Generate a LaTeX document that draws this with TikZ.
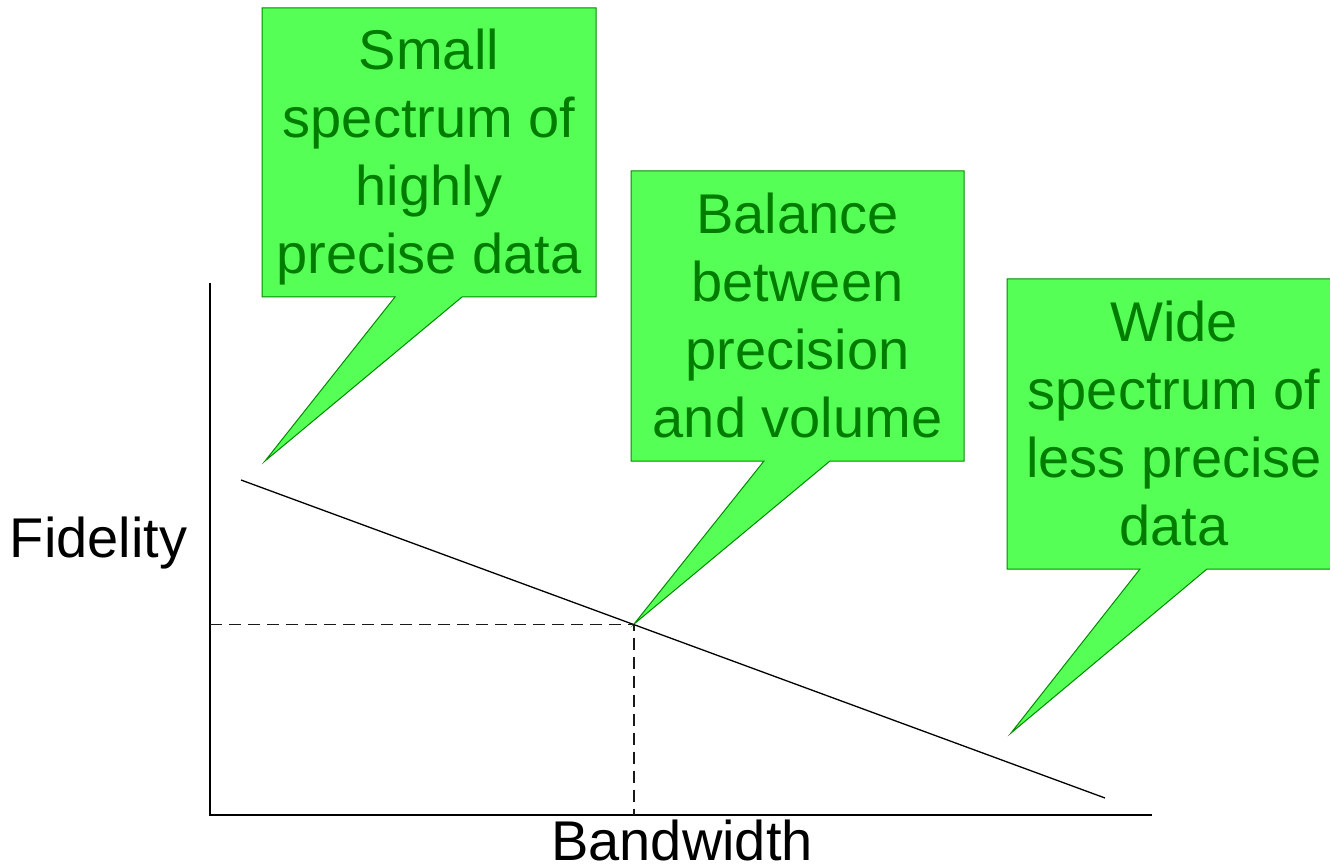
\documentclass[tikz,border=0pt]{standalone}
\usepackage{fontspec}
\setmainfont{Liberation Sans}
\definecolor{callfill}{RGB}{85,255,85}
\definecolor{calldraw}{RGB}{0,140,0}
\definecolor{calltext}{RGB}{0,125,0}
\begin{document}
\begin{tikzpicture}[x=1pt,y=-1pt,
  callout/.style={fill=callfill,draw=calldraw,line width=1pt,line join=miter},
  calltxt/.style={text=calltext,align=center,inner sep=0pt,anchor=base,
    font=\fontsize{56}{68}\selectfont},
  axislbl/.style={text=black,inner sep=0pt,anchor=base,font=\fontsize{56}{68}\selectfont},
  axisline/.style={line width=1.6pt,black},
  trend/.style={line width=1.3pt,black},
  guide/.style={line width=1.4pt,black!90,dash pattern=on 12pt off 7pt}]
\useasboundingbox (0,0) rectangle (1330,866);
\clip (0,0) rectangle (1330,866);
% callouts
\draw[callout] (262,8) -- (596,8) -- (596,297) -- (462,297) -- (265,461) -- (395,297) -- (262,297) -- cycle;
\node[calltxt] (c1) at (429,274) {Small\\spectrum of\\highly\\precise data};
\draw[callout] (631,171) -- (964,171) -- (964,461) -- (830,461) -- (634,624) -- (764,461) -- (631,461) -- cycle;
\node[calltxt] (c2) at (797.5,437) {Balance\\between\\precision\\and volume};
\draw[callout] (1007,279) -- (1340,279) -- (1340,569) -- (1207,569) -- (1011,733) -- (1140,569) -- (1007,569) -- cycle;
\node[calltxt] (c3) at (1174,545) {Wide\\spectrum of\\less precise\\data};
% axes
\coordinate (ytop) at (210,283);
\coordinate (orig) at (210,815);
\coordinate (xend) at (1152,815);
\draw[axisline] (ytop) -- (orig) -- (xend);
% trend line
\coordinate (tA) at (241,480);
\coordinate (tB) at (1105,798);
\coordinate (bal) at (634,624.6);
\coordinate (ybal) at (210,624.6);
\coordinate (xbal) at (634,815);
\draw[trend] (tA) -- (tB);
\draw[guide] (ybal) -- (bal) -- (xbal);
% labels
\node[axislbl] (fid) at (98.5,557) {Fidelity};
\node[axislbl] (bw) at (682,860) {Bandwidth};
\end{tikzpicture}
\end{document}
